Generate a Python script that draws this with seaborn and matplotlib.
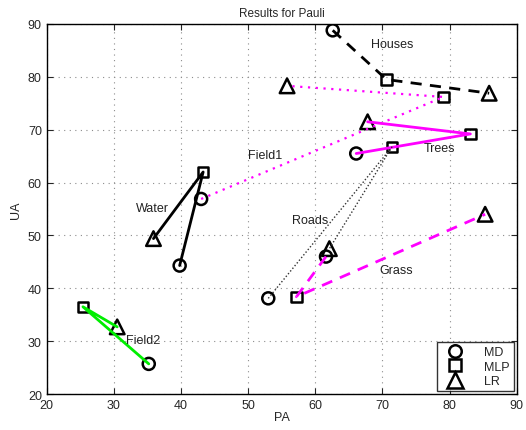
# Results for Pauli - PA vs UA per class for three classifiers
import pandas as pd
import numpy as np
import matplotlib
matplotlib.use('Agg')
import matplotlib.pyplot as plt
import seaborn as sns
from matplotlib.lines import Line2D

classes = ['Houses', 'Field1', 'Trees', 'Roads', 'Grass', 'Water', 'Field2']
pa_md = [62.6, 43.0, 66.1, 53.0, 61.6, 39.8, 35.2]
ua_md = [88.8, 56.9, 65.5, 38.1, 46.0, 44.3, 25.7]
pa_mlp = [70.6, 79.1, 83.1, 71.4, 57.2, 43.3, 25.4]
ua_mlp = [79.5, 76.2, 69.2, 66.7, 38.4, 62.0, 36.5]
pa_lr = [85.9, 55.8, 67.8, 62.1, 85.3, 35.9, 30.5]
ua_lr = [76.9, 78.3, 71.5, 47.5, 54.0, 49.4, 32.7]

label_x = [71.4, 52.5, 78.5, 59.2, 72.1, 35.7, 34.4]
label_y = [86.3, 65.3, 66.6, 52.9, 43.4, 55.2, 30.2]

ticks = [20, 30, 40, 50, 60, 70, 80, 90]

# line style per class
styles = {
    'Houses': ('black', (0, (4, 3)), 2.0),
    'Field1': ('#ff00ff', (0, (1, 2.5)), 1.6),
    'Trees': ('#ff00ff', '-', 2.0),
    'Roads': ('#333333', (0, (1, 1.5)), 1.0),
    'Grass': ('#ff00ff', (0, (4, 3)), 2.0),
    'Water': ('black', '-', 2.0),
    'Field2': ('#00ee00', '-', 2.0),
}

sns.set_style('ticks')
plt.rcParams['font.family'] = ['Liberation Sans', 'DejaVu Sans']

fig = plt.figure(figsize=(5.26, 4.31), dpi=100)
ax = fig.add_axes([0.0888, 0.0835, 0.8935, 0.8585])

# markers
marker_df = pd.DataFrame({
    'PA': pa_md + pa_mlp + pa_lr,
    'UA': ua_md + ua_mlp + ua_lr,
    'Method': ['MD'] * 7 + ['MLP'] * 7 + ['LR'] * 7,
})
mk = {'MD': 'o', 'MLP': 's', 'LR': '^'}
sz = {'MD': 75, 'MLP': 55, 'LR': 110}
for m in ['MD', 'MLP', 'LR']:
    sub = marker_df[marker_df['Method'] == m]
    sns.scatterplot(data=sub, x='PA', y='UA', marker=mk[m], s=sz[m],
                    facecolor='none', edgecolor='black', linewidth=1.8,
                    ax=ax, zorder=3, legend=False)

# lines MD -> MLP -> LR
for i, c in enumerate(classes):
    col, ls, lw = styles[c]
    line_df = pd.DataFrame({'PA': [pa_md[i], pa_mlp[i], pa_lr[i]],
                            'UA': [ua_md[i], ua_mlp[i], ua_lr[i]]})
    sns.lineplot(data=line_df, x='PA', y='UA', sort=False, estimator=None,
                 color=col, linestyle=ls, linewidth=lw, ax=ax, zorder=4)
    ax.text(label_x[i], label_y[i], c, ha='center', va='center',
            fontsize=9, color='#222222', zorder=5)

ax.set_xlim(20, 90)
ax.set_ylim(20, 90)
ax.set_xticks(ticks)
ax.set_yticks(ticks)
ax.grid(True, linestyle=(0, (1, 4)), color='0.55', linewidth=0.8)
ax.tick_params(direction='in', top=True, right=True, labelsize=9, length=4)
for s in ax.spines.values():
    s.set_color('black')
    s.set_linewidth(1.0)
ax.set_xlabel('PA', fontsize=9, labelpad=0)
ax.set_ylabel('UA', fontsize=9, labelpad=4)
ax.set_title('Results for Pauli', fontsize=8.5, pad=6)

handles = [
    Line2D([], [], marker='o', linestyle='none', markerfacecolor='none',
           markeredgecolor='black', markeredgewidth=1.8, markersize=9, label='MD'),
    Line2D([], [], marker='s', linestyle='none', markerfacecolor='none',
           markeredgecolor='black', markeredgewidth=1.8, markersize=8, label='MLP'),
    Line2D([], [], marker='^', linestyle='none', markerfacecolor='none',
           markeredgecolor='black', markeredgewidth=1.8, markersize=11, label='LR'),
]
leg = ax.legend(handles=handles, loc='lower right', fontsize=9, frameon=True,
                fancybox=False, edgecolor='black', handletextpad=1.1,
                handlelength=2.4, labelspacing=0.2, borderaxespad=0.25,
                borderpad=0.3)
leg.get_frame().set_linewidth(1.0)

fig.savefig('out.png', dpi=100)
